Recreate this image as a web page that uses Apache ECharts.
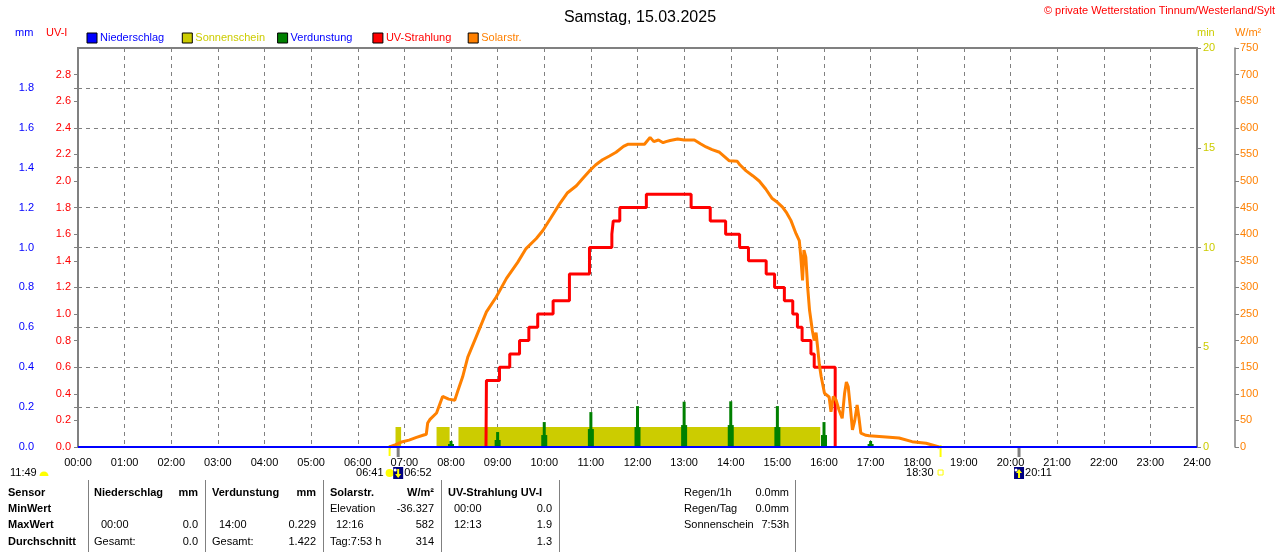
<!DOCTYPE html>
<html>
<head>
<meta charset="utf-8">
<title>Samstag, 15.03.2025</title>
<script src="https://cdn.jsdelivr.net/npm/echarts@6/dist/echarts.min.js"></script>
<style>
  html, body { margin: 0; padding: 0; background: #fff; }
  #chart { width: 1280px; height: 552px; }
</style>
</head>
<body>
<div id="chart"></div>
<script>
// Zeitachse in Stunden (0..24), Beschriftung je volle Stunde
var hourLabels = ['00:00','01:00','02:00','03:00','04:00','05:00','06:00','07:00','08:00','09:00','10:00','11:00','12:00',
                  '13:00','14:00','15:00','16:00','17:00','18:00','19:00','20:00','21:00','22:00','23:00','24:00'];

// Solarstrahlung W/m²
var solarTimes  = [6.68, 6.80, 6.96, 7.10, 7.26, 7.40, 7.47, 7.50, 7.55, 7.69, 7.82, 7.95, 8.08, 8.14, 8.25, 8.36, 8.54, 8.76,
                   8.97, 9.19, 9.43, 9.61, 9.83, 9.97, 10.15, 10.33, 10.50, 10.69, 10.83, 10.97, 11.10, 11.25, 11.40, 11.54,
                   11.70, 11.79, 12.00, 12.15, 12.27, 12.35, 12.45, 12.55, 12.61, 12.70, 12.86, 13.00, 13.22, 13.35, 13.47,
                   13.60, 13.76, 13.97, 14.14, 14.20, 14.33, 14.47, 14.61, 14.75, 14.89, 15.00, 15.11, 15.20, 15.29, 15.40,
                   15.47, 15.50, 15.54, 15.57, 15.61, 15.65, 15.69, 15.75, 15.79, 15.83, 15.86, 15.90, 15.94, 16.01, 16.11,
                   16.15, 16.20, 16.26, 16.32, 16.39, 16.44, 16.48, 16.52, 16.57, 16.61, 16.66, 16.71, 16.75, 16.79, 16.90,
                   16.97, 17.33, 17.61, 17.89, 18.19, 18.47];
var solarValues = [0, 4, 10, 13, 18, 22, 24, 45, 52, 64, 95, 90, 88, 104, 132, 169, 207, 254,
                   282, 317, 347, 373, 392, 407, 432, 457, 478, 491, 505, 519, 530, 540, 547, 554,
                   565, 569, 569, 569, 582, 574, 577, 572, 574, 576, 579, 577, 577, 570, 564,
                   559, 554, 538, 537, 530, 519, 510, 500, 485, 467, 460, 451, 440, 426, 401,
                   388, 360, 313, 370, 357, 300, 257, 219, 200, 215, 190, 155, 132, 101, 94,
                   66, 95, 88, 70, 54, 100, 122, 113, 70, 32, 50, 79, 55, 26, 22,
                   21, 19, 17, 10, 7, 0];

// UV-Strahlung UV-I (Wert gilt ab Zeitpunkt)
var uvTimes  = [8.75, 8.76, 9.04, 9.26, 9.47, 9.67, 9.86, 10.19, 10.54, 10.97, 11.45, 11.48, 11.62, 12.19,
                13.15, 13.56, 13.89, 14.19, 14.38, 14.76, 14.94, 15.15, 15.33, 15.43, 15.53, 15.72, 15.79, 16.24];
var uvValues = [0, 0.5, 0.6, 0.7, 0.8, 0.9, 1.0, 1.1, 1.3, 1.5, 1.6, 1.7, 1.8, 1.9,
                1.8, 1.7, 1.6, 1.5, 1.4, 1.3, 1.2, 1.1, 1.0, 0.9, 0.8, 0.7, 0.6, 0];

// Sonnenschein min
var sunTimes  = [6.81, 6.93, 7.69, 7.97, 8.16, 15.92];
var sunValues = [1, 0, 1, 0, 1, 0];

// Verdunstung mm (stündlich)
var evapHours     = [8, 9, 10, 11, 12, 13, 14, 15, 16, 17];
var evapValues    = [0.03, 0.075, 0.125, 0.175, 0.205, 0.227, 0.229, 0.205, 0.125, 0.03];
var evapSubValues = [0.015, 0.035, 0.06, 0.09, 0.10, 0.11, 0.11, 0.10, 0.06, 0.015];

// Niederschlag mm
var rainTimes  = [0, 24];
var rainValues = [0, 0];

// Sonne / Mond
var sunRise = 6.683, sunSet = 18.5, moonSet = 6.867, moonRise = 20.183;
var dayLength = '11:49';

// Tabelle unten
var tableRows = [493, 509, 525, 542];
var tableLines = [88, 205, 323, 441, 559, 795];
var tableCells = [
    [8, 0, 'Sensor', 'left', true], [8, 1, 'MinWert', 'left', true], [8, 2, 'MaxWert', 'left', true], [8, 3, 'Durchschnitt', 'left', true],
    [94, 0, 'Niederschlag', 'left', true], [198, 0, 'mm', 'right', true], [101, 2, '00:00', 'left'], [198, 2, '0.0', 'right'],
    [94, 3, 'Gesamt:', 'left'], [198, 3, '0.0', 'right'],
    [212, 0, 'Verdunstung', 'left', true], [316, 0, 'mm', 'right', true], [219, 2, '14:00', 'left'], [316, 2, '0.229', 'right'],
    [212, 3, 'Gesamt:', 'left'], [316, 3, '1.422', 'right'],
    [330, 0, 'Solarstr.', 'left', true], [434, 0, 'W/m²', 'right', true], [330, 1, 'Elevation', 'left'], [434, 1, '-36.327', 'right'],
    [336, 2, '12:16', 'left'], [434, 2, '582', 'right'], [330, 3, 'Tag:7:53 h', 'left'], [434, 3, '314', 'right'],
    [448, 0, 'UV-Strahlung UV-I', 'left', true], [454, 1, '00:00', 'left'], [552, 1, '0.0', 'right'],
    [454, 2, '12:13', 'left'], [552, 2, '1.9', 'right'], [552, 3, '1.3', 'right'],
    [684, 0, 'Regen/1h', 'left'], [789, 0, '0.0mm', 'right'], [684, 1, 'Regen/Tag', 'left'], [789, 1, '0.0mm', 'right'],
    [684, 2, 'Sonnenschein', 'left'], [789, 2, '7:53h', 'right']
];

var legendItems = [
    ['Niederschlag', '#0000ff', '#0000ff'],
    ['Sonnenschein', '#cccc00', '#cccc00'],
    ['Verdunstung', '#008000', '#0000ff'],
    ['UV-Strahlung', '#ff0000', '#ff0000'],
    ['Solarstr.', '#ff8000', '#ff8000']
];

var FONT = '"Liberation Sans", Arial, sans-serif';
var GRAY = '#808080';

function pairs(xs, ys) {
    return xs.map(function (x, i) { return [x, ys[i]]; });
}

var chart = echarts.init(document.getElementById('chart'));

var option = {
    animation: false,
    title: {
        text: 'Samstag, 15.03.2025',
        left: 'center',
        top: 5,
        textStyle: { fontFamily: FONT, fontSize: 16, fontWeight: 'normal', color: '#000' }
    },
    grid: {
        left: 78, right: 83, top: 48, bottom: 105,
        show: true, borderColor: GRAY, borderWidth: 2
    },
    xAxis: [
        {
            type: 'value', min: 0, max: 24, interval: 1,
            axisLine: { show: false },
            axisTick: { show: false },
            axisLabel: {
                color: '#000', fontFamily: FONT, fontSize: 11, margin: 10,
                formatter: function (v) { return hourLabels[Math.round(v)]; }
            },
            splitLine: { show: true, lineStyle: { color: GRAY, type: [4, 4] } }
        },
        { type: 'value', min: 0, max: 24, show: false }
    ],
    yAxis: [
        {   // mm
            type: 'value', position: 'left', offset: 38, min: 0, max: 2, interval: 0.2,
            axisLine: { show: true, lineStyle: { color: GRAY, width: 1.5 } },
            axisTick: { show: true, length: 4, lineStyle: { color: GRAY } },
            axisLabel: { color: '#0000ff', fontFamily: FONT, fontSize: 11, margin: 6, showMaxLabel: false,
                formatter: function (v) { return v.toFixed(1); } },
            splitLine: { show: true, lineStyle: { color: GRAY, type: [4, 4] } }
        },
        {   // UV-I
            type: 'value', position: 'left', offset: 0, min: 0, max: 3, interval: 0.2,
            axisLine: { show: true, lineStyle: { color: GRAY, width: 2 } },
            axisTick: { show: true, length: 4, lineStyle: { color: GRAY } },
            axisLabel: { color: '#ff0000', fontFamily: FONT, fontSize: 11, margin: 7, showMaxLabel: false,
                formatter: function (v) { return v.toFixed(1); } },
            splitLine: { show: false }
        },
        {   // min
            type: 'value', position: 'right', offset: 0, min: 0, max: 20, interval: 5,
            axisLine: { show: true, lineStyle: { color: GRAY, width: 2 } },
            axisTick: { show: true, length: 4, lineStyle: { color: GRAY } },
            axisLabel: { color: '#cccc00', fontFamily: FONT, fontSize: 11, margin: 6 },
            splitLine: { show: false }
        },
        {   // W/m²
            type: 'value', position: 'right', offset: 38, min: 0, max: 750, interval: 50,
            axisLine: { show: true, lineStyle: { color: GRAY, width: 1.5 } },
            axisTick: { show: true, length: 4, lineStyle: { color: GRAY } },
            axisLabel: { color: '#ff8000', fontFamily: FONT, fontSize: 11, margin: 5 },
            splitLine: { show: false }
        }
    ],
    series: [
        {
            name: 'Sonnenschein', type: 'line', step: 'end', yAxisIndex: 2,
            data: pairs(sunTimes, sunValues),
            symbol: 'none', lineStyle: { width: 0 },
            itemStyle: { color: '#cccc00' },
            areaStyle: { color: '#cccc00', opacity: 1 },
            z: 1
        },
        {
            name: 'Verdunstung', type: 'bar', xAxisIndex: 1, yAxisIndex: 0,
            data: pairs(evapHours, evapSubValues), barWidth: 6,
            itemStyle: { color: '#008000' }, z: 2
        },
        {
            name: 'Verdunstung', type: 'bar', xAxisIndex: 0, yAxisIndex: 0,
            data: pairs(evapHours, evapValues), barWidth: 3,
            itemStyle: { color: '#008000' }, z: 2
        },
        {
            name: 'UV-Strahlung', type: 'line', step: 'end', yAxisIndex: 1,
            data: pairs(uvTimes, uvValues), symbol: 'none', clip: false,
            itemStyle: { color: '#ff0000' },
            lineStyle: { color: '#ff0000', width: 3 }, z: 3
        },
        {
            name: 'Solarstr.', type: 'line', yAxisIndex: 3,
            data: pairs(solarTimes, solarValues), symbol: 'none', clip: false,
            itemStyle: { color: '#ff8000' },
            lineStyle: { color: '#ff8000', width: 3 }, z: 4
        },
        {
            name: 'Niederschlag', type: 'line', yAxisIndex: 0,
            data: pairs(rainTimes, rainValues), symbol: 'none', clip: false,
            itemStyle: { color: '#0000ff' },
            lineStyle: { color: '#0000ff', width: 2 }, z: 5
        }
    ]
};

chart.setOption(option);

// --- Zusatzgrafik: Texte, Legende, Sonne/Mond, Tabelle ---
function txt(x, y, text, color, align, bold, size) {
    return {
        type: 'text', x: x, y: y, silent: true,
        style: {
            text: text, fill: color || '#000',
            font: (bold ? 'bold ' : '') + (size || 11) + 'px ' + FONT,
            align: align || 'left', textAlign: align || 'left',
            verticalAlign: 'middle', textVerticalAlign: 'middle'
        }
    };
}
function box(x, y, w, h, fill, stroke) {
    return {
        type: 'rect', silent: true,
        shape: { x: x, y: y, width: w, height: h },
        style: { fill: fill, stroke: stroke || null, lineWidth: stroke ? 1 : 0 }
    };
}
function vline(x, y1, y2, color, w) {
    return {
        type: 'line', silent: true,
        shape: { x1: x, y1: y1, x2: x, y2: y2 },
        style: { stroke: color, lineWidth: w || 1 }
    };
}
function moonIcon(cx, cy, up) {
    var a = up ? [[cx, cy - 4], [cx - 3, cy], [cx - 1, cy], [cx - 1, cy + 5], [cx + 1, cy + 5], [cx + 1, cy], [cx + 3, cy]]
               : [[cx, cy + 5], [cx - 3, cy + 1], [cx - 1, cy + 1], [cx - 1, cy - 4], [cx + 1, cy - 4], [cx + 1, cy + 1], [cx + 3, cy + 1]];
    return [
        box(cx - 5, cy - 6, 10, 12, '#000080'),
        { type: 'circle', silent: true, shape: { cx: cx - 3, cy: cy - 3, r: 1.5 }, style: { fill: '#ffffff' } },
        { type: 'polygon', silent: true, shape: { points: a }, style: { fill: '#ffff00' } }
    ];
}

var px = function (t) { return chart.convertToPixel({ xAxisIndex: 0 }, t); };
var yBase = chart.convertToPixel({ yAxisIndex: 0 }, 0);
var g = [];

g.push(txt(1275, 11, '© private Wetterstation Tinnum/Westerland/Sylt', '#ff0000', 'right'));
g.push(txt(15, 33, 'mm', '#0000ff'));
g.push(txt(46, 33, 'UV-I', '#ff0000'));
g.push(txt(1197, 33, 'min', '#cccc00'));
g.push(txt(1235, 33, 'W/m²', '#ff8000'));

legendItems.forEach(function (it, i) {
    var x0 = 87 + i * 95.3;
    g.push(box(x0, 33, 10, 10, it[1], '#000'));
    g.push(txt(x0 + 13, 38, it[0], it[2]));
});

// Tageslänge
g.push(txt(10, 473, dayLength, '#000'));
g.push({ type: 'sector', silent: true, shape: { cx: 44, cy: 476, r0: 0, r: 4.5, startAngle: Math.PI, endAngle: 2 * Math.PI },
         style: { fill: '#ffff00' } });

// Sonnenaufgang / Monduntergang
var xr = px(sunRise), xs = px(sunSet), xms = px(moonSet), xmr = px(moonRise);
g.push(vline(xr, yBase - 2, yBase + 9, '#ffff00', 2));
g.push(vline(xs, yBase - 2, yBase + 10, '#ffff00', 2));
g.push(vline(xms, yBase, yBase + 10, GRAY, 3));
g.push(vline(xmr, yBase, yBase + 10, GRAY, 3));

g.push(txt(xr - 6, 473, '06:41', '#000', 'right'));
g.push({ type: 'circle', silent: true, shape: { cx: xr, cy: 473, r: 4 }, style: { fill: '#ffff00' } });
moonIcon(xms, 473, false).forEach(function (e) { g.push(e); });
g.push(txt(xms + 6, 473, '06:52', '#000'));

g.push(txt(xs - 7, 473, '18:30', '#000', 'right'));
g.push(box(xs - 2.5, 470, 5, 5, '#ffffff', '#ffff00'));

moonIcon(xmr, 473, true).forEach(function (e) { g.push(e); });
g.push(txt(xmr + 6, 473, '20:11', '#000'));

// Tabelle
tableLines.forEach(function (x) { g.push(vline(x + 0.5, 480, 552, GRAY, 1)); });
tableCells.forEach(function (c) {
    g.push(txt(c[0], tableRows[c[1]], c[2], '#000', c[3], c[4]));
});

chart.setOption({ graphic: { elements: g } });
</script>
</body>
</html>
